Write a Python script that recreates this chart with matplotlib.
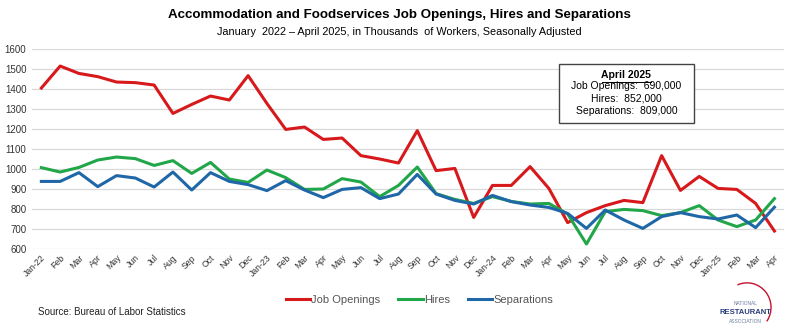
import matplotlib.pyplot as plt
from matplotlib.patches import Arc, Rectangle

plt.rcParams['font.family'] = ['Liberation Sans', 'DejaVu Sans']

months = ['Jan-22', 'Feb', 'Mar', 'Apr', 'May', 'Jun', 'Jul', 'Aug', 'Sep', 'Oct', 'Nov', 'Dec',
          'Jan-23', 'Feb', 'Mar', 'Apr', 'May', 'Jun', 'Jul', 'Aug', 'Sep', 'Oct', 'Nov', 'Dec',
          'Jan-24', 'Feb', 'Mar', 'Apr', 'May', 'Jun', 'Jul', 'Aug', 'Sep', 'Oct', 'Nov', 'Dec',
          'Jan-25', 'Feb', 'Mar', 'Apr']

job_openings = [1405, 1515, 1478, 1462, 1435, 1432, 1420, 1278, 1323, 1365, 1345, 1467,
                1328, 1198, 1210, 1148, 1155, 1067, 1050, 1030, 1192, 992, 1003, 758,
                918, 918, 1012, 903, 732, 782, 817, 843, 832, 1067, 893, 963,
                903, 898, 828, 690]

hires = [1007, 985, 1008, 1045, 1060, 1052, 1018, 1042, 978, 1033, 950, 933,
         995, 957, 898, 900, 952, 935, 862, 918, 1010, 877, 848, 828,
         862, 838, 825, 828, 775, 625, 787, 798, 792, 767, 782, 817,
         745, 712, 745, 852]

separations = [938, 938, 982, 912, 967, 955, 910, 985, 895, 982, 938, 922,
               892, 942, 895, 857, 898, 907, 852, 875, 973, 875, 843, 825,
               868, 837, 820, 808, 778, 703, 795, 745, 703, 762, 782, 762,
               750, 770, 707, 809]

red = '#d7191c'
green = '#22a64a'
blue = '#1f67a6'

fig = plt.figure(figsize=(7.99, 3.27), dpi=100)
ax = fig.add_axes([0.040, 0.2385, 0.941, 0.6115])

x = list(range(len(months)))
ax.plot(x, job_openings, color=red, lw=2.2, label='Job Openings')
ax.plot(x, hires, color=green, lw=2.2, label='Hires')
ax.plot(x, separations, color=blue, lw=2.2, label='Separations')

ax.set_xlim(-0.5, len(months) - 0.5)
ax.set_ylim(600, 1600)
ax.set_yticks(range(600, 1700, 100))
ax.set_xticks(x)
ax.set_xticklabels(months, rotation=45, ha='right', rotation_mode='anchor', fontsize=6.3, color='#333333')
ax.tick_params(axis='y', labelsize=7, colors='#333333', length=0, pad=4)
ax.tick_params(axis='x', length=0, pad=3)
ax.grid(axis='y', color='#d9d9d9', lw=0.9)
ax.set_axisbelow(True)
for s in ax.spines.values():
    s.set_visible(False)

fig.text(0.5, 0.955, 'Accommodation and Foodservices Job Openings, Hires and Separations',
         ha='center', va='center', fontsize=9.6, fontweight='bold')
fig.text(0.5, 0.903, 'January  2022 \u2013 April 2025, in Thousands  of Workers, Seasonally Adjusted',
         ha='center', va='center', fontsize=7.8)

# annotation box
fig.add_artist(Rectangle((0.6996, 0.624), 0.169, 0.18, transform=fig.transFigure,
                         fc='white', ec='#444444', lw=1.0, zorder=5))
cx = 0.784
fig.text(cx, 0.772, 'April 2025', ha='center', va='center', fontsize=7.5, fontweight='bold', zorder=6)
fig.add_artist(plt.Line2D([0.7535, 0.8145], [0.750, 0.750], color='black', lw=0.7, zorder=6))
fig.text(cx, 0.737, 'Job Openings:  690,000', ha='center', va='center', fontsize=7.5, zorder=6)
fig.text(cx, 0.699, 'Hires:  852,000', ha='center', va='center', fontsize=7.5, zorder=6)
fig.text(cx, 0.661, 'Separations:  809,000', ha='center', va='center', fontsize=7.5, zorder=6)

leg = fig.legend(loc='center', bbox_to_anchor=(0.525, 0.083), ncol=3, frameon=False,
                 fontsize=8, handlelength=2.2, handletextpad=0.1, columnspacing=1.6)
for txt in leg.get_texts():
    txt.set_color('#555555')

fig.text(0.047, 0.045, 'Source: Bureau of Labor Statistics', fontsize=7, va='center', color='#222222')

# NRA logo approximation
fig.text(0.933, 0.072, 'NATIONAL', ha='center', fontsize=3.5, color='#6a7aa0', va='center')
fig.text(0.933, 0.045, 'RESTAURANT', ha='center', fontsize=5.5, fontweight='bold', color='#2c3e7a', va='center')
fig.text(0.933, 0.018, 'ASSOCIATION', ha='center', fontsize=3.5, color='#6a7aa0', va='center')
fig.add_artist(Arc((0.935, 0.06), 0.06, 0.15, theta1=-60, theta2=100, color='#c8102e', lw=1.0,
                   transform=fig.transFigure))

fig.savefig('out.png', dpi=100)
